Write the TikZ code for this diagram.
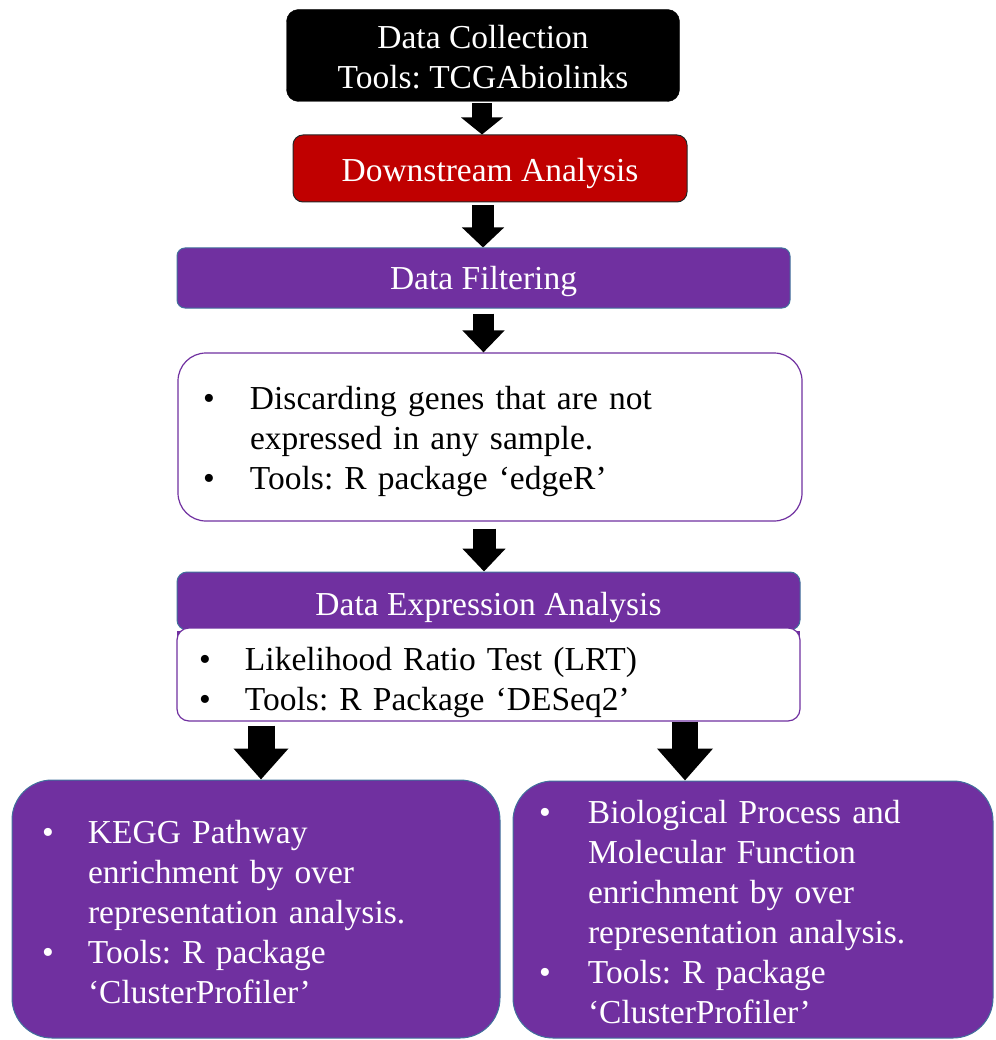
\documentclass[tikz,border=0pt]{standalone}
\usepackage{fontspec}
\setmainfont{Liberation Serif}
\frenchspacing
\usetikzlibrary{arrows.meta,calc}
\definecolor{purp}{HTML}{7030A0}
\definecolor{dred}{HTML}{C00000}
\definecolor{edgeblue}{HTML}{41719C}
\newcommand{\bulletbox}[1]{\makebox[#1][l]{\textbullet}}
\begin{document}
\begin{tikzpicture}[x=1pt,y=-1pt,
  txt/.style={font=\fontsize{33.5}{40}\selectfont},
  darkbox/.style={txt, rectangle, inner sep=0pt, align=center, text=white},
  purpbox/.style={darkbox, fill=purp, draw=edgeblue, line width=1pt},
  whitebox/.style={txt, rectangle, fill=white, draw=purp, line width=1.2pt, align=left, text=black, inner ysep=0pt},
  listbox/.style={txt, rectangle, fill=purp, draw=edgeblue, line width=1pt, align=left, text=white, inner ysep=0pt},
  blk/.style={draw=black, line cap=butt}
]
\useasboundingbox (0,0) rectangle (995,1040);

% boxes
\node[darkbox, fill=black, draw=black, rounded corners=12pt, minimum width=393pt, minimum height=92pt,
      text height=66pt, text depth=0pt] (collect) at (483,55.5)
  {Data Collection\\Tools: TCGAbiolinks};
\node[darkbox, fill=dred, draw=black!85, line width=1pt, rounded corners=10pt, minimum width=394pt, minimum height=67pt,
      text height=27pt, text depth=0pt] (down) at (490,168.5)
  {Downstream Analysis};
\node[purpbox, rounded corners=8pt, minimum width=613pt, minimum height=60pt,
      text height=24pt, text depth=0pt] (filt) at (483.5,278)
  {Data Filtering};
\node[whitebox, rounded corners=28pt, inner xsep=25pt, text width=574pt, minimum height=168pt,
      text height=24pt, text depth=80pt] (dfbox) at (490,437)
  {\bulletbox{47pt}Discarding genes that are not\\
   \hspace*{47pt}expressed in any sample.\\
   \bulletbox{47pt}Tools: R package ‘edgeR’};
\node[purpbox, rounded corners=10pt, minimum width=623pt, minimum height=58pt,
      text height=28pt, text depth=0pt] (dea) at (488.5,601)
  {Data Expression Analysis};
\fill[purp] ([xshift=0.5pt]dea.south west) rectangle ([shift={(-0.5,14)}]dea.south east);
\node[whitebox, rounded corners=12pt, inner xsep=22pt, text width=579pt, minimum height=93pt,
      text height=31pt, text depth=40pt] (body) at (488.5,674.5)
  {\bulletbox{46pt}Likelihood Ratio Test (LRT)\\
   \bulletbox{46pt}Tools: R Package ‘DESeq2’};
\node[listbox, rounded corners=40pt, inner xsep=30pt, text width=428pt, minimum height=258pt,
      text height=28pt, text depth=160pt] (kegg) at (256,909)
  {\bulletbox{46pt}KEGG Pathway\\
   \hspace*{46pt}enrichment by over\\
   \hspace*{46pt}representation analysis.\\
   \bulletbox{46pt}Tools: R package\\
   \hspace*{46pt}‘ClusterProfiler’};
\node[listbox, rounded corners=40pt, inner xsep=26pt, text width=428pt, minimum height=257pt,
      text height=27pt, text depth=200pt] (bp) at (753,909.5)
  {\bulletbox{49pt}Biological Process and\\
   \hspace*{49pt}Molecular Function\\
   \hspace*{49pt}enrichment by over\\
   \hspace*{49pt}representation analysis.\\
   \bulletbox{49pt}Tools: R package\\
   \hspace*{49pt}‘ClusterProfiler’};

% arrows
\draw[blk, line width=20pt, -{Triangle[width=41pt,length=17pt]}]
  ([shift={(-1,1.5)}]collect.south) -- ([xshift=-1pt]collect.south |- down.north);
\draw[blk, line width=22pt, -{Triangle[width=41pt,length=20pt]}]
  ([shift={(-7,3)}]down.south) -- ([xshift=-7pt]down.south |- filt.north);
\draw[blk, line width=21pt, -{Triangle[width=41pt,length=22pt]}]
  ([shift={(0,5)}]filt.south) -- (filt.south |- dfbox.north);
\draw[blk, line width=23pt, -{Triangle[width=42pt,length=23pt]}]
  ([shift={(-6,7)}]dfbox.south) -- ([xshift=-6pt]dfbox.south |- dea.north);
\draw[blk, line width=27pt, -{Triangle[width=53pt,length=31pt]}]
  ([shift={(-227.5,4)}]body.south) -- ([xshift=-227.5pt]body.south |- kegg.north);
\draw[blk, line width=26pt, -{Triangle[width=54pt,length=32pt]}]
  ([shift={(196.5,0)}]body.south) -- ([xshift=196.5pt]body.south |- bp.north);
\end{tikzpicture}
\end{document}
